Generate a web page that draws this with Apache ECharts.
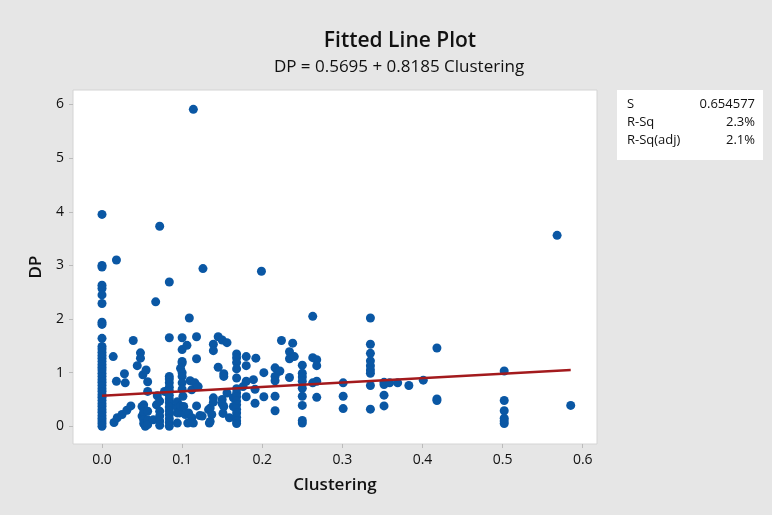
<!DOCTYPE html>
<html>
<head>
<meta charset="utf-8">
<title>Fitted Line Plot</title>
<script src="https://cdn.jsdelivr.net/npm/echarts@6/dist/echarts.min.js"></script>
<style>
  html, body { margin: 0; padding: 0; background: #e6e6e6; }
  #chart { width: 772px; height: 515px; }
</style>
</head>
<body>
<div id="chart"></div>
<script>
// Observations as [Clustering, DP], grouped by Clustering band
const bandZero = [
  [0,3.95],[0,3.00],[0,2.97],[0,2.63],[0,2.57],[0,2.45],[0,2.29],[0,1.94],[0,1.90],[0,1.64],
  [0,1.49],[0,1.44],[0,1.38],[0,1.32],[0,1.27],[0,1.21],[0,1.15],[0,1.10],[0,1.05],[0,0.99],
  [0,0.93],[0,0.87],[0,0.82],[0,0.76],[0,0.70],[0,0.65],[0,0.59],[0,0.54],[0,0.48],[0,0.42],
  [0,0.37],[0,0.31],[0,0.26],[0,0.20],[0,0.15],[0,0.10],[0,0.05],[0,0.00]
];
const bandLow = [
  [0.014,1.30],[0.018,3.10],[0.015,0.07],[0.019,0.16],[0.018,0.84],[0.025,0.22],[0.028,0.98],
  [0.029,0.81],[0.031,0.30],[0.036,0.38],[0.039,1.60],[0.044,1.13],[0.048,1.37],[0.048,1.27],
  [0.051,0.96],[0.055,1.05],[0.057,0.83],[0.057,0.65],[0.050,0.37],[0.050,0.19],[0.052,0.40],
  [0.052,0.33],[0.052,0.26],[0.052,0.12],[0.052,0.05],[0.054,0.00],[0.057,0.28],[0.057,0.12],
  [0.057,0.03],[0.064,0.12]
];
const bandMidLow = [
  [0.067,2.32],[0.072,3.73],[0.084,2.69],[0.068,0.40],[0.069,0.57],[0.072,0.47],[0.072,0.28],
  [0.072,0.19],[0.072,0.10],[0.072,0.02],[0.078,0.65],[0.084,1.65],[0.084,0.93],[0.084,0.88],
  [0.084,0.81],[0.084,0.73],[0.084,0.66],[0.084,0.58],[0.084,0.51],[0.084,0.44],[0.084,0.36],
  [0.084,0.29],[0.084,0.22],[0.084,0.14],[0.084,0.07],[0.084,0.00]
];
const bandTenth = [
  [0.093,0.37],[0.094,0.46],[0.094,0.25],[0.094,0.06],[0.097,0.25],[0.098,0.38],[0.100,1.65],
  [0.100,1.43],[0.100,1.21],[0.100,1.18],[0.098,1.08],[0.100,1.00],[0.100,0.93],[0.100,0.81],
  [0.100,0.69],[0.101,0.56],[0.102,0.37],[0.104,0.22],[0.107,0.06],[0.106,1.51],[0.109,2.02],
  [0.108,0.25],[0.110,0.85],[0.112,0.68],[0.112,0.16],[0.112,0.09],[0.114,0.06],[0.116,0.81],
  [0.118,1.67],[0.118,1.26],[0.118,0.38],[0.120,0.74],[0.114,5.91],[0.122,0.20],[0.125,0.19],
  [0.126,2.94],[0.133,0.31],[0.134,0.06],[0.135,0.34],[0.135,0.09],[0.137,0.22]
];
const bandMid = [
  [0.139,1.53],[0.139,1.41],[0.139,0.53],[0.139,0.45],[0.145,1.67],[0.150,1.61],[0.156,1.56],
  [0.145,1.10],[0.152,0.98],[0.152,0.93],[0.150,0.50],[0.150,0.42],[0.152,0.37],[0.151,0.24],
  [0.156,0.62],[0.159,0.16],[0.164,0.53],[0.164,0.37],
  [0.168,1.35],[0.168,1.28],[0.168,1.19],[0.168,1.07],[0.168,0.90],[0.168,0.70],[0.168,0.62],
  [0.168,0.55],[0.168,0.47],[0.168,0.40],[0.168,0.32],[0.168,0.25],[0.168,0.17],[0.168,0.10],
  [0.168,0.05]
];
const bandFifth = [
  [0.176,0.74],[0.180,1.30],[0.180,1.13],[0.180,0.84],[0.180,0.55],[0.189,0.87],[0.191,0.69],
  [0.191,0.43],[0.192,1.27],[0.199,2.89],[0.202,1.00],[0.202,0.55],[0.216,1.09],[0.220,1.02],
  [0.216,0.93],[0.216,0.85],[0.216,0.56],[0.216,0.29]
];
const bandQuarter = [
  [0.224,1.60],[0.238,1.55],[0.234,1.39],[0.234,1.26],[0.240,1.30],[0.222,1.03],[0.234,0.91],
  [0.250,1.14],[0.250,0.99],[0.250,0.92],[0.250,0.84],[0.250,0.71],[0.250,0.56],[0.250,0.39],
  [0.250,0.11],[0.250,0.06],
  [0.263,2.05],[0.263,1.28],[0.268,1.24],[0.268,1.13],[0.263,0.81],[0.268,0.84],[0.268,0.54]
];
const bandHigh = [
  [0.301,0.81],[0.301,0.56],[0.301,0.33],
  [0.335,2.02],[0.335,1.53],[0.335,1.36],[0.335,1.22],[0.335,1.13],[0.335,1.05],[0.335,0.99],
  [0.335,0.76],[0.335,0.32],
  [0.352,0.82],[0.352,0.78],[0.352,0.58],[0.352,0.38],
  [0.359,0.81],[0.369,0.81],[0.383,0.76],[0.401,0.86],[0.418,1.46],[0.418,0.51],[0.418,0.48],
  [0.502,1.03],[0.502,0.48],[0.502,0.29],[0.502,0.15],[0.502,0.10],[0.502,0.05],
  [0.568,3.56],[0.585,0.39]
];

// Regression summary
const intercept = 0.5695;
const slope = 0.8185;
const statLabels = ['S', 'R-Sq', 'R-Sq(adj)'];
const statValues = ['0.654577', '2.3%', '2.1%'];

// Axis ticks
const xTicks = [0, 0.1, 0.2, 0.3, 0.4, 0.5, 0.6];
const yTicks = [0, 1, 2, 3, 4, 5, 6];

const points = [].concat(bandZero, bandLow, bandMidLow, bandTenth, bandMid, bandFifth, bandQuarter, bandHigh);
const xs = points.map(p => p[0]);
const fitStart = Math.min.apply(null, xs);
const fitEnd = Math.max.apply(null, xs);
const fitLine = [
  [fitStart, intercept + slope * fitStart],
  [fitEnd, intercept + slope * fitEnd]
];

const FONT = 'Open Sans';
const chart = echarts.init(document.getElementById('chart'), null, { renderer: 'canvas' });

const statGraphics = [{
  type: 'rect',
  shape: { x: 617, y: 90, width: 146, height: 70 },
  style: { fill: '#ffffff' }
}];
statLabels.forEach((lab, i) => {
  statGraphics.push({
    type: 'text', x: 627, y: 104 + i * 18,
    style: { text: lab, font: '13px "' + FONT + '"', fill: '#111', textVerticalAlign: 'middle', textAlign: 'left' }
  });
  statGraphics.push({
    type: 'text', x: 755, y: 104 + i * 18,
    style: { text: statValues[i], font: '13px "' + FONT + '"', fill: '#111', textVerticalAlign: 'middle', textAlign: 'right' }
  });
});

chart.setOption({
  backgroundColor: '#e6e6e6',
  animation: false,
  title: [
    {
      text: 'Fitted Line Plot', left: 395, top: 26, textAlign: 'center',
      textStyle: { fontFamily: FONT, fontSize: 21, fontWeight: 600, color: '#111' }
    },
    {
      text: 'DP = 0.5695 + 0.8185 Clustering', left: 394, top: 54, textAlign: 'center',
      textStyle: { fontFamily: FONT, fontSize: 17, fontWeight: 'normal', color: '#111' }
    }
  ],
  grid: {
    left: 73, right: 175, top: 90, bottom: 71,
    show: true, backgroundColor: '#ffffff', borderColor: '#d4d4d4', borderWidth: 1
  },
  xAxis: {
    type: 'value', min: -0.0362, max: 0.6178,
    name: 'Clustering', nameLocation: 'middle', nameGap: 33,
    nameTextStyle: { fontFamily: FONT, fontSize: 17, fontWeight: 600, color: '#111' },
    axisLine: { show: false, onZero: false },
    axisTick: { show: true, customValues: xTicks, length: 4, lineStyle: { color: '#bbb' } },
    axisLabel: {
      customValues: xTicks, formatter: v => v.toFixed(1), margin: 9,
      fontFamily: FONT, fontSize: 14, color: '#111'
    },
    splitLine: { show: false }
  },
  yAxis: {
    type: 'value', min: -0.33, max: 6.27,
    name: 'DP', nameLocation: 'middle', nameGap: 27, nameRotate: 90,
    nameTextStyle: { fontFamily: FONT, fontSize: 17, fontWeight: 600, color: '#111' },
    axisLine: { show: false, onZero: false },
    axisTick: { show: true, customValues: yTicks, length: 4, lineStyle: { color: '#bbb' } },
    axisLabel: {
      customValues: yTicks, formatter: v => String(v), margin: 9,
      fontFamily: FONT, fontSize: 14, color: '#111'
    },
    splitLine: { show: false }
  },
  graphic: statGraphics,
  series: [
    {
      type: 'scatter', data: points, symbol: 'circle', symbolSize: 9,
      itemStyle: { color: '#0a57a4', opacity: 1 },
      z: 2
    },
    {
      type: 'line', data: fitLine, symbol: 'none',
      lineStyle: { color: '#a31a1d', width: 2.5 },
      z: 3
    }
  ]
});
</script>
</body>
</html>
